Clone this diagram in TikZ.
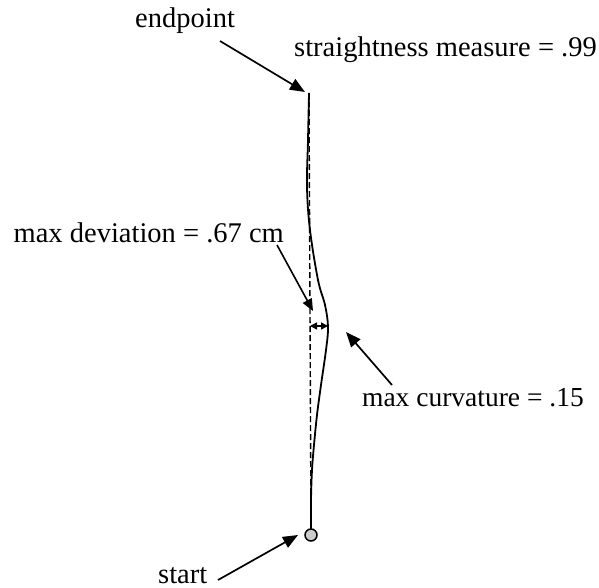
\documentclass[tikz,border=0pt]{standalone}
\usepackage{fontspec}
\setmainfont{Liberation Serif}
\usetikzlibrary{arrows.meta}
\begin{document}
\begin{tikzpicture}[x=1pt,y=-1pt,
  lbl/.style={inner sep=0pt,font=\fontsize{28.5}{30}\selectfont},
  bigarrow/.style={line width=1.7pt,-{Triangle[length=15pt,width=12pt]}},
  midarrow/.style={line width=1.6pt,-{Triangle[length=12pt,width=10pt]}},
  devarrow/.style={line width=1.5pt,{Triangle[length=7pt,width=7pt]}-{Triangle[length=7pt,width=7pt]}},
  pathline/.style={line width=1.8pt},
  chord/.style={line width=1.4pt,dash pattern=on 6pt off 3pt}]
\useasboundingbox[fill=white] (0,0) rectangle (599,588);
% labels
\node[lbl,anchor=base west] (endlbl) at (135,28) {endpoint};
\node[lbl,anchor=base east] (straight) at (597,57) {straightness measure = .99};
\node[lbl,anchor=base east] (devlbl) at (284,242) {max deviation = .67 cm};
\node[lbl,anchor=base east,font=\fontsize{27.5}{30}\selectfont] (curvlbl) at (584,406) {max curvature = .15};
\node[lbl,anchor=base west] (startlbl) at (158,583) {start};
% key points
\coordinate (top) at (309,93);
\coordinate (bot) at (311,530);
\coordinate (devL) at (310,326);
\coordinate (devR) at (328,326);
\coordinate (endtail) at (220,41);
\coordinate (endtip) at (305,92);
\coordinate (devtail) at (277,245);
\coordinate (devtip) at (313,311);
\coordinate (curvtail) at (392,385);
\coordinate (curvtip) at (346,332);
\coordinate (starttail) at (218,580);
\coordinate (starttip) at (298,535);
% dashed chord
\draw[chord] (bot) -- (top);
% movement path
\draw[pathline] plot[smooth,tension=0.6] coordinates {(309,93) (308,140) (307,187) (310,230) (318,280) (325,305) (328,327) (326,350) (321,385) (317,415) (314,445) (312,470) (311,500) (311,530)};
% start circle
\node[circle,draw,line width=1.5pt,fill=black!20,minimum size=12pt,inner sep=0pt] (startc) at (311,535) {};
% deviation marker
\draw[devarrow] (devL) -- (devR);
% pointer arrows
\draw[bigarrow] (endtail) -- (endtip);
\draw[midarrow] (devtail) -- (devtip);
\draw[bigarrow] (curvtail) -- (curvtip);
\draw[bigarrow] (starttail) -- (starttip);
\end{tikzpicture}
\end{document}
